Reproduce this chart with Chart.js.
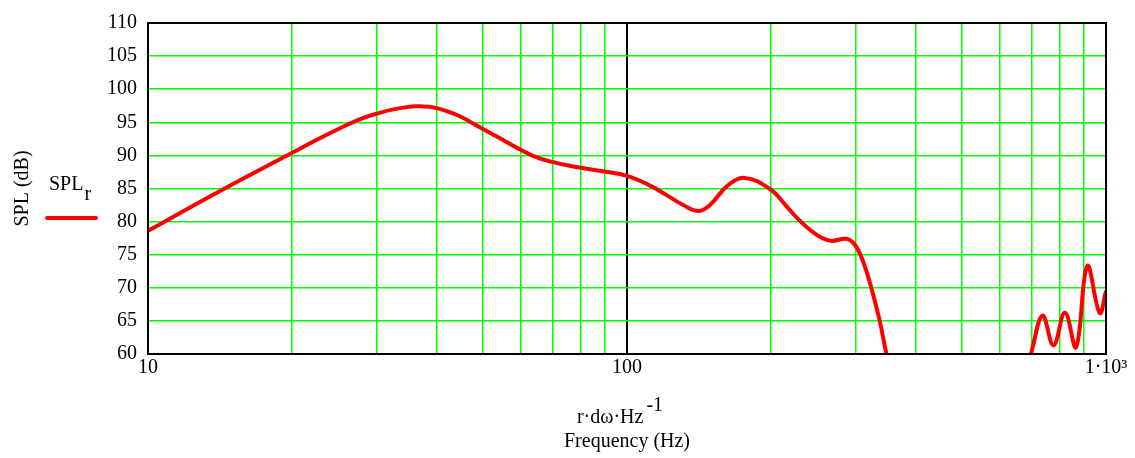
<!DOCTYPE html>
<html><head><meta charset="utf-8">
<script src="https://cdn.jsdelivr.net/npm/chart.js@4"></script>
<style>html,body{margin:0;padding:0;background:#fff;}</style>
</head><body>
<canvas id="c" width="1135" height="458"></canvas>
<script>
const freqHz = [10, 14.2, 20, 23, 26, 28, 30, 32.5, 35.5, 37.5, 39.4, 42, 44.2, 47, 49.4, 54.3, 59.1, 63.8, 69, 79, 89, 100,
  112, 121, 131, 141, 149, 162, 176, 199, 216, 229, 249, 266, 287, 299, 311, 325, 337, 348, 358,
  500,
  688, 697, 737, 777, 821, 866, 914, 970, 1000];
const splR = [78.6, 84.7, 90.4, 92.7, 94.6, 95.6, 96.3, 96.95, 97.4, 97.4, 97.25, 96.7, 96.1, 95.1, 94.2, 92.6, 91.1, 89.9, 89.1, 88.2, 87.6, 86.9,
  85.4, 84.0, 82.5, 81.6, 82.5, 85.4, 86.6, 84.9, 82.2, 80.2, 78.0, 77.1, 77.4, 76.5, 74.0, 69.5, 65.0, 60.0, 56.5,
  null,
  58.8, 60.0, 65.8, 61.3, 66.25, 61.0, 73.3, 66.2, 69.5];
const xTicks = [10, 20, 30, 40, 50, 60, 70, 80, 90, 100, 200, 300, 400, 500, 600, 700, 800, 900, 1000];
const xTickLabels = {10: '10', 100: '100', 1000: '1·10³'};
const yMin = 60, yMax = 110, yStep = 5;
const seriesLabel = 'SPL';
const seriesSub = 'r';
const xTitleTop = 'r·dω·Hz';
const xTitleSup = '-1';
const xTitle = 'Frequency (Hz)';
const yTitle = 'SPL (dB)';

const FONT = 'Liberation Serif, Times New Roman, serif';
const FS = 20;
const GREEN = '#00ff00';

const framePlugin = {
  id: 'frame',
  afterDraw(chart) {
    const {ctx, chartArea: a} = chart;
    ctx.save();
    ctx.strokeStyle = '#000';
    ctx.lineWidth = 2;
    ctx.strokeRect(a.left, a.top, a.right - a.left, a.bottom - a.top);
    // legend
    ctx.fillStyle = '#000';
    ctx.font = FS + 'px ' + FONT;
    ctx.textBaseline = 'alphabetic';
    ctx.textAlign = 'left';
    ctx.fillText(seriesLabel, 49, 190);
    const w = ctx.measureText(seriesLabel).width;
    ctx.fillText(seriesSub, 49 + w + 1, 200);
    ctx.strokeStyle = '#ff0000';
    ctx.lineWidth = 4;
    ctx.lineCap = 'round';
    ctx.beginPath();
    ctx.moveTo(47, 218);
    ctx.lineTo(96, 218);
    ctx.stroke();
    // x title first line with superscript
    const w1 = ctx.measureText(xTitleTop).width;
    const w2 = ctx.measureText(xTitleSup).width;
    const cx = (a.left + a.right) / 2 - 7;
    const x0 = cx - (w1 + w2 + 3) / 2;
    ctx.fillText(xTitleTop, x0, 423);
    ctx.fillText(xTitleSup, x0 + w1 + 3, 411);
    ctx.restore();
  }
};

new Chart(document.getElementById('c'), {
  type: 'line',
  data: {
    datasets: [{
      label: seriesLabel + seriesSub,
      data: freqHz.map((f, i) => ({x: f, y: splR[i]})),
      borderColor: '#ff0000',
      backgroundColor: '#ff0000',
      borderWidth: 4,
      pointRadius: 0,
      tension: 0.4,
      spanGaps: false,
      clip: 0
    }]
  },
  options: {
    responsive: false,
    animation: false,
    layout: {padding: {top: 18, right: 29, left: 0, bottom: 0}},
    plugins: {legend: {display: false}, tooltip: {enabled: false}},
    scales: {
      x: {
        type: 'logarithmic',
        min: 10, max: 1000,
        afterBuildTicks: s => { s.ticks = xTicks.map(v => ({value: v, major: false})); },
        afterFit: s => { s.height = 104; },
        border: {display: false},
        grid: {
          drawTicks: false,
          color: xTicks.map(v => v === 100 ? '#000000' : GREEN),
          lineWidth: xTicks.map(v => v === 100 ? 2 : 1.5)
        },
        ticks: {
          autoSkip: false, maxRotation: 0, minRotation: 0, padding: 2,
          major: {enabled: false},
          color: '#000', font: {family: FONT, size: FS},
          callback: v => xTickLabels[v] !== undefined ? xTickLabels[v] : ''
        },
        title: {display: true, text: xTitle, color: '#000', font: {family: FONT, size: FS}, padding: {top: 0, bottom: 4}}
      },
      y: {
        min: yMin, max: yMax,
        afterFit: s => { s.width = 148; },
        border: {display: false},
        grid: {drawTicks: false, color: GREEN, lineWidth: 1.5},
        ticks: {stepSize: yStep, padding: 11, color: '#000', font: {family: FONT, size: FS}},
        title: {display: true, text: yTitle, color: '#000', font: {family: FONT, size: FS}, padding: {top: 11, bottom: 0}}
      }
    }
  },
  plugins: [framePlugin]
});
</script>
</body></html>
